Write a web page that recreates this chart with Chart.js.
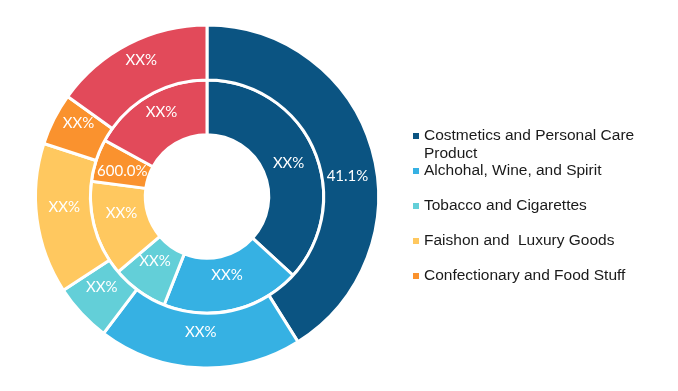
<!DOCTYPE html>
<html>
<head>
<meta charset="utf-8">
<script src="https://cdn.jsdelivr.net/npm/chart.js@4.4.0/dist/chart.umd.min.js"></script>
<style>
  html, body { margin: 0; padding: 0; background: #ffffff; }
  #wrap { width: 678px; height: 391px; position: relative; }
</style>
</head>
<body>
<div id="wrap"><canvas id="myChart" width="678" height="391"></canvas></div>
<script>
// categories shown in the legend (the red slice has no legend entry)
const categories = [
    ['Costmetics and Personal Care', 'Product'],
    'Alchohal, Wine, and Spirit',
    'Tobacco and Cigarettes',
    'Faishon and  Luxury Goods',
    'Confectionary and Food Stuff',
    'Others'
];
const outerValues = [41.1, 19.2, 5.5, 14.2, 4.9, 15.1];
const innerValues = [36.8, 19.2, 7.8, 13.3, 5.9, 17.0];
const outerLabels = ['41.1%', 'XX%', 'XX%', 'XX%', 'XX%', 'XX%'];
const innerLabels = ['XX%', 'XX%', 'XX%', 'XX%', '600.0%', 'XX%'];
const colors = ['#0B5482', '#36B1E3', '#63CFD8', '#FFC85F', '#FA922E', '#E24A5A'];
const legendCount = 5;

const ctx = document.getElementById('myChart');

// white text in each slice; labels sit a bit above the slice middle,
// a few are nudged like in the original
const labelNudge = { '0-0': [2, 19], '1-0': [0, 3], '1-4': [0, 2] };
const sliceLabels = {
    id: 'sliceLabels',
    afterDatasetsDraw(chart) {
        const c = chart.ctx;
        const texts = [outerLabels, innerLabels];
        c.save();
        c.font = '15px Lato, "Liberation Sans", Arial, sans-serif';
        c.fillStyle = '#ffffff';
        c.textAlign = 'center';
        c.textBaseline = 'middle';
        chart.data.datasets.forEach((ds, i) => {
            chart.getDatasetMeta(i).data.forEach((arc, j) => {
                const p = arc.tooltipPosition();
                const n = labelNudge[i + '-' + j] || [0, -8];
                c.fillText(texts[i][j], p.x + n[0], p.y + n[1]);
            });
        });
        c.restore();
    }
};

// legend drawn on the right, fixed spacing like the original
const sideLegend = {
    id: 'sideLegend',
    afterDraw(chart) {
        const c = chart.ctx;
        const x = 413;
        let y = 136;
        c.save();
        c.font = '15.5px "Liberation Sans", Arial, sans-serif';
        c.textBaseline = 'middle';
        for (let i = 0; i < legendCount; i++) {
            c.fillStyle = colors[i];
            c.fillRect(x, y - 3, 6, 6);
            c.fillStyle = '#1a1a1a';
            const lines = Array.isArray(categories[i]) ? categories[i] : [categories[i]];
            lines.forEach((t, k) => c.fillText(t, x + 11, y + k * 18));
            y += 35;
        }
        c.restore();
    }
};

const myChart = new Chart(ctx, {
    type: 'doughnut',
    data: {
        labels: categories.map(l => Array.isArray(l) ? l.join(' ') : l),
        datasets: [
            {
                data: outerValues,
                backgroundColor: colors,
                borderColor: '#ffffff',
                borderWidth: 3
            },
            {
                data: innerValues,
                backgroundColor: colors,
                borderColor: '#ffffff',
                borderWidth: 3
            }
        ]
    },
    options: {
        responsive: false,
        animation: false,
        cutout: '36%',
        layout: {
            padding: { top: 23, bottom: 21, left: 34, right: 298 }
        },
        plugins: {
            legend: { display: false },
            tooltip: { enabled: false }
        }
    },
    plugins: [sliceLabels, sideLegend]
});
</script>
</body>
</html>
